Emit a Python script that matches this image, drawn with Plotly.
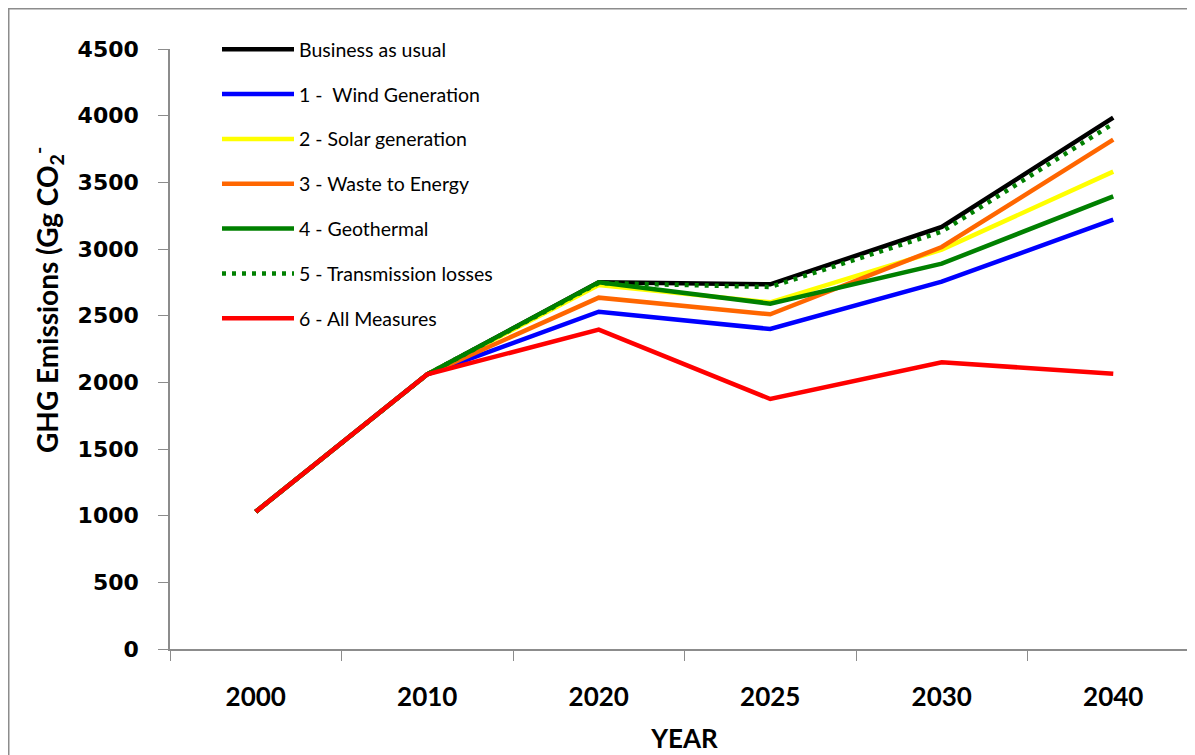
import plotly.graph_objects as go

years = ["2000", "2010", "2020", "2025", "2030", "2040"]
bau = [1030, 2060, 2750, 2735, 3165, 3985]
wind = [1030, 2060, 2530, 2400, 2755, 3220]
solar = [1030, 2060, 2730, 2600, 2995, 3580]
waste = [1030, 2060, 2635, 2510, 3015, 3820]
geo = [1030, 2060, 2750, 2590, 2890, 3395]
trans = [1030, 2060, 2745, 2715, 3130, 3940]
allm = [1030, 2060, 2395, 1875, 2150, 2065]

names = ["Business as usual", "1 -  Wind Generation", "2 - Solar generation",
         "3 - Waste to Energy", "4 - Geothermal", "5 - Transmission losses",
         "6 - All Measures"]
series = [bau, wind, solar, waste, geo, trans, allm]
colors = ["#000000", "#0000FF", "#FFFF00", "#FF6600", "#008000", "#008000", "#FF0000"]
dashes = ["solid", "solid", "solid", "solid", "solid", "4px,6px", "solid"]

fig = go.Figure()
for i, (n, s, c, d) in enumerate(zip(names, series, colors, dashes)):
    fig.add_trace(go.Scatter(x=years, y=s, name=n, mode="lines",
                             legendgroup=f"g{i}",
                             line=dict(color=c, width=4.5, dash=d)))

# page offset (body margin) is 8px; image coords -> figure coords
OFF = 8
L, T = 162, 41          # figure coords of plot area top-left (image 170, 49)
plot_w, plot_h = 1029, 600
W = L + plot_w
H = 755 - OFF
B = H - T - plot_h


def px(img_x):
    return (img_x - OFF - L) / plot_w


def py(img_y):
    return 1 - (img_y - OFF - T) / plot_h


fig.update_layout(
    width=W, height=H,
    margin=dict(l=L, r=0, t=T, b=B, autoexpand=False),
    plot_bgcolor="white", paper_bgcolor="white",
    font=dict(family="Lato", color="black"),
    showlegend=True,
    legend=dict(x=px(217), y=py(30), xanchor="left", yanchor="top",
                bgcolor="rgba(0,0,0,0)", font=dict(size=19.5, family="Lato", color="black"),
                tracegroupgap=16.5, itemwidth=72),
    xaxis=dict(type="category", range=[-0.5, 5.5], showline=True, linecolor="#8c8c8c",
               linewidth=1.5, automargin=False,
               ticks="outside", tickson="boundaries", ticklen=10, tickcolor="#8c8c8c",
               tickfont=dict(family="Lato", size=26, color="black", weight="bold"),
               ticklabelstandoff=24, showgrid=False, zeroline=False,
               title=dict(text="<b>YEAR</b>", font=dict(family="Lato", size=26), standoff=19)),
    yaxis=dict(range=[0, 4500], dtick=500, showline=True, linecolor="#8c8c8c", linewidth=1.5,
               ticks="outside", ticklen=10, tickcolor="#8c8c8c", automargin=False,
               tickfont=dict(family="DejaVu Sans", size=22, color="black", weight="bold"),
               ticklabelstandoff=15, showgrid=False, zeroline=False),
    shapes=[dict(type="rect", xref="paper", yref="paper",
                 x0=(0.75 - L) / plot_w, x1=(W + 20 - L) / plot_w,
                 y0=-(B + 20) / plot_h, y1=1 + (T - 0.75) / plot_h,
                 line=dict(color="#8c8c8c", width=1.5), fillcolor="rgba(0,0,0,0)",
                 layer="below")],
    annotations=[dict(text="<b>GHG Emissions (Gg CO<sub>2</sub><sup>-</sup></b>",
                      xref="paper", yref="paper", textangle=-90,
                      x=px(47), y=py(300),
                      xanchor="center", yanchor="middle", showarrow=False,
                      font=dict(family="Lato", size=28, color="black"))],
)

fig.write_html("out.html")
